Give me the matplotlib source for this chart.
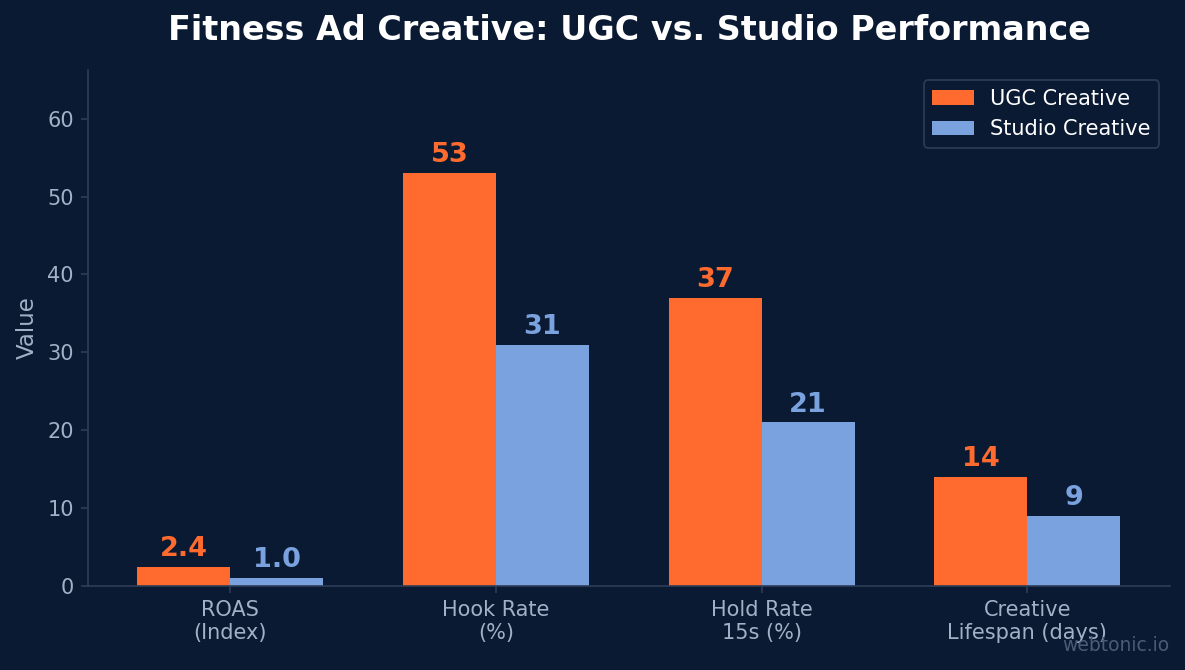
import numpy as np
import matplotlib.pyplot as plt

categories = ["ROAS\n(Index)", "Hook Rate\n(%)", "Hold Rate\n15s (%)", "Creative\nLifespan (days)"]
ugc_values = [2.4, 53, 37, 14]
studio_values = [1.0, 31, 21, 9]
ugc_labels = ["2.4", "53", "37", "14"]
studio_labels = ["1.0", "31", "21", "9"]

BG = "#0b1a33"
ORANGE = "#ff6b2f"
BLUE = "#7aa2de"
TICK = "#a3b1c6"
SPINE = "#2d3d58"


def main():
    plt.rcParams["font.family"] = "DejaVu Sans"
    fig = plt.figure(figsize=(11.85, 6.7), dpi=100, facecolor=BG)
    ax = fig.add_axes([0.0743, 0.1254, 0.9127, 0.7701])
    ax.set_facecolor(BG)

    x = np.arange(len(categories))
    width = 0.35
    b1 = ax.bar(x - width / 2, ugc_values, width, color=ORANGE, label="UGC Creative")
    b2 = ax.bar(x + width / 2, studio_values, width, color=BLUE, label="Studio Creative")

    for bar, lab in zip(b1, ugc_labels):
        ax.annotate(lab, (bar.get_x() + bar.get_width() / 2, bar.get_height()),
                    xytext=(0, 3.5), textcoords="offset points", ha="center", va="bottom",
                    color=ORANGE, fontsize=19.5, fontweight="bold")
    for bar, lab in zip(b2, studio_labels):
        ax.annotate(lab, (bar.get_x() + bar.get_width() / 2, bar.get_height()),
                    xytext=(0, 3.5), textcoords="offset points", ha="center", va="bottom",
                    color=BLUE, fontsize=19.5, fontweight="bold")

    ax.set_ylim(0, max(ugc_values) * 1.25)
    ax.set_xticks(x)
    ax.set_xticklabels(categories)
    ax.set_ylabel("Value", color=TICK, fontsize=16.5, labelpad=6)
    ax.tick_params(colors=TICK, labelsize=15)
    ax.tick_params(axis="both", color=SPINE, length=5.25, width=1.2, pad=5)
    for side in ["top", "right"]:
        ax.spines[side].set_visible(False)
    for side in ["left", "bottom"]:
        ax.spines[side].set_color(SPINE)
        ax.spines[side].set_linewidth(1.2)

    # title centred over the axes, not the figure
    fig.text(0.5308, 0.954, "Fitness Ad Creative: UGC vs. Studio Performance", color="white",
             fontsize=24, fontweight="bold", ha="center", va="center")

    leg = ax.legend(loc="upper right", fontsize=15, facecolor=BG, edgecolor=SPINE,
                    labelcolor="white", framealpha=1)
    leg.get_frame().set_linewidth(1.2)

    fig.text(0.987, 0.022, "webtonic.io", ha="right", va="bottom", color="#4a5b78", fontsize=13.5)

    fig.savefig("out.png", dpi=100, facecolor=BG)


if __name__ == "__main__":
    main()
